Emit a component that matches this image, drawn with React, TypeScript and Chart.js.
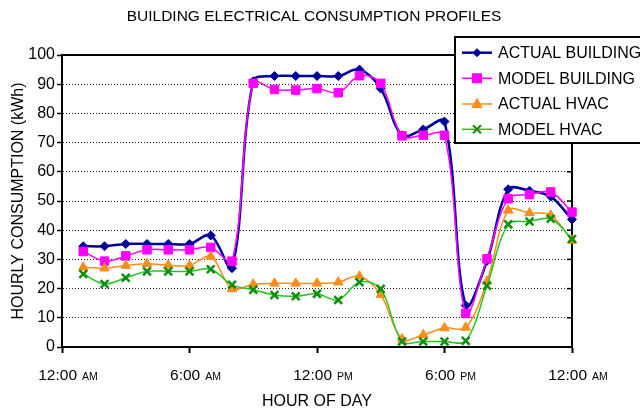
import React, { useEffect, useRef } from 'react';
import { Chart, registerables } from 'chart.js';

Chart.register(...registerables);

// ---------------- data ----------------
const hours = [1, 2, 3, 4, 5, 6, 7, 8, 9, 10, 11, 12, 13, 14, 15, 16, 17, 18, 19, 20, 21, 22, 23, 24];
const actualBuilding = [34.5, 34.5, 35.3, 35.3, 35.3, 35.3, 38.2, 27.0, 91.0, 92.8, 92.8, 92.8, 92.8, 95.0, 88.5, 72.5, 74.5, 77.2, 14.2, 29.5, 54.0, 53.5, 51.5, 43.7];
const modelBuilding = [32.7, 29.4, 31.2, 33.3, 33.3, 33.3, 34.1, 29.4, 90.3, 88.2, 88.0, 88.5, 87.1, 92.9, 90.3, 72.3, 72.5, 72.5, 11.5, 30.2, 50.8, 52.2, 53.1, 46.2];
const actualHvac = [27.3, 27.0, 27.9, 28.5, 28.0, 27.9, 31.0, 19.9, 21.5, 21.8, 21.8, 21.8, 22.2, 24.2, 17.9, 2.7, 4.2, 6.5, 6.7, 22.5, 46.8, 45.9, 45.1, 36.5];
const modelHvac = [25.0, 21.6, 23.7, 25.9, 25.9, 25.9, 26.6, 21.3, 19.6, 17.8, 17.4, 18.2, 16.1, 22.2, 19.9, 1.9, 1.9, 1.9, 2.1, 21.0, 42.0, 43.0, 43.9, 37.0];
const seriesNames = ['ACTUAL BUILDING', 'MODEL BUILDING', 'ACTUAL HVAC', 'MODEL HVAC'];
const xTickHours = [0, 6, 12, 18, 24];
const xTickTimes = ['12:00', '6:00', '12:00', '6:00', '12:00'];
const xTickPeriods = ['AM', 'AM', 'PM', 'PM', 'AM'];
const chartTitle = 'BUILDING ELECTRICAL CONSUMPTION PROFILES';
const xAxisTitle = 'HOUR OF DAY';
const yAxisTitle = 'HOURLY CONSUMPTION (kWh)';

// ---------------- styles ----------------
const FONT = "'Liberation Sans', Arial, sans-serif";
const STYLES = [
  { color: '#00009C', marker: 'diamond', pointStyle: 'rectRot', radius: 4.5, lineWidth: 2.5, fill: '#00009C', stroke: '#00009C', pbw: 1, order: 4 },
  { color: '#FF00FF', marker: 'square', pointStyle: 'rect', radius: 6, lineWidth: 1.5, fill: '#FF00FF', stroke: '#FF00FF', pbw: 1, order: 3 },
  { color: '#FF8C1A', marker: 'triangle', pointStyle: 'triangle', radius: 5.5, lineWidth: 1.5, fill: '#FF8C1A', stroke: '#FF8C1A', pbw: 1, order: 2 },
  { color: '#22C422', marker: 'x', pointStyle: 'crossRot', radius: 5.5, lineWidth: 1.5, fill: '#0E8E0E', stroke: '#0E8E0E', pbw: 2.5, order: 1 },
];

function drawMarker(ctx: CanvasRenderingContext2D, kind: string, x: number, y: number, r: number, fill: string, stroke: string, lw: number) {
  ctx.save();
  ctx.fillStyle = fill;
  ctx.strokeStyle = stroke;
  ctx.lineWidth = lw;
  ctx.beginPath();
  if (kind === 'diamond') {
    ctx.moveTo(x, y - r); ctx.lineTo(x + r, y); ctx.lineTo(x, y + r); ctx.lineTo(x - r, y); ctx.closePath();
    ctx.fill(); ctx.stroke();
  } else if (kind === 'square') {
    ctx.rect(x - r, y - r, 2 * r, 2 * r); ctx.fill(); ctx.stroke();
  } else if (kind === 'triangle') {
    ctx.moveTo(x, y - r); ctx.lineTo(x + r * 0.95, y + r * 0.65); ctx.lineTo(x - r * 0.95, y + r * 0.65); ctx.closePath();
    ctx.fill(); ctx.stroke();
  } else {
    ctx.moveTo(x - r, y - r); ctx.lineTo(x + r, y + r); ctx.moveTo(x + r, y - r); ctx.lineTo(x - r, y + r);
    ctx.stroke();
  }
  ctx.restore();
}

const decor = {
  id: 'decor',
  beforeDraw(chart: any) {
    const ctx = chart.ctx;
    ctx.save();
    ctx.fillStyle = '#fff';
    ctx.fillRect(0, 0, chart.width, chart.height);
    ctx.restore();
  },
  beforeDatasetsDraw(chart: any) {
    const ctx = chart.ctx;
    const a = chart.chartArea;
    const ys = chart.scales.y;
    ctx.save();
    ctx.strokeStyle = '#000';
    ctx.lineWidth = 2;
    ctx.beginPath();
    ctx.moveTo(a.left - 1, a.top);
    ctx.lineTo(a.right, a.top);
    ctx.lineTo(a.right, a.bottom);
    ctx.stroke();
    ctx.lineWidth = 1.5;
    for (let v = 10; v < 100; v += 10) {
      const py = ys.getPixelForValue(v);
      ctx.beginPath();
      ctx.moveTo(a.right - 5, py);
      ctx.lineTo(a.right, py);
      ctx.stroke();
    }
    ctx.restore();
  },
  afterDraw(chart: any) {
    const ctx = chart.ctx;
    const xs = chart.scales.x;
    ctx.save();
    // title
    ctx.fillStyle = '#000';
    ctx.font = `15.5px ${FONT}`;
    ctx.textAlign = 'center';
    ctx.textBaseline = 'alphabetic';
    ctx.fillText(chartTitle, 314, 21);
    // x tick labels (time in normal size, AM/PM in small caps size)
    ctx.textAlign = 'left';
    xTickHours.forEach((h, i) => {
      const px = xs.getPixelForValue(h);
      ctx.font = `15.5px ${FONT}`;
      const main = xTickTimes[i];
      const w1 = ctx.measureText(main).width;
      const gap = 5;
      ctx.font = `10.5px ${FONT}`;
      const w2 = ctx.measureText(xTickPeriods[i]).width;
      const start = px + 6 - (w1 + gap + w2) / 2;
      ctx.font = `15.5px ${FONT}`;
      ctx.fillText(main, start, 380);
      ctx.font = `10.5px ${FONT}`;
      ctx.fillText(xTickPeriods[i], start + w1 + gap, 380);
    });
    // legend
    const lx = 455, ly = 37, lw = 200, lh = 106;
    ctx.fillStyle = '#fff';
    ctx.fillRect(lx, ly, lw, lh);
    ctx.strokeStyle = '#000';
    ctx.lineWidth = 2;
    ctx.strokeRect(lx, ly, lw, lh);
    const rows = [52.7, 78.3, 104, 129.3];
    const legendR = [4, 4.5, 5.5, 4];
    seriesNames.forEach((name, i) => {
      const s = STYLES[i];
      const y = rows[i];
      ctx.strokeStyle = s.color;
      ctx.lineWidth = s.lineWidth;
      ctx.beginPath();
      ctx.moveTo(462, y);
      ctx.lineTo(492, y);
      ctx.stroke();
      drawMarker(ctx, s.marker, 477, y, legendR[i], s.fill, s.stroke, s.marker === 'x' ? 2 : 1);
      ctx.fillStyle = '#000';
      ctx.font = `16px ${FONT}`;
      ctx.textAlign = 'left';
      ctx.textBaseline = 'middle';
      ctx.fillText(name, 498, y + 1);
    });
    ctx.restore();
  },
};

export default function App() {
  const ref = useRef<HTMLCanvasElement>(null);
  useEffect(() => {
    const canvas = ref.current as HTMLCanvasElement;
    const seriesValues = [actualBuilding, modelBuilding, actualHvac, modelHvac];
    const chart = new Chart(canvas, {
      type: 'line',
      data: {
        datasets: seriesValues.map((vals, i) => ({
          label: seriesNames[i],
          data: hours.map((h, j) => ({ x: h, y: vals[j] })),
          borderColor: STYLES[i].color,
          backgroundColor: STYLES[i].fill,
          borderWidth: STYLES[i].lineWidth,
          pointStyle: STYLES[i].pointStyle as any,
          pointRadius: STYLES[i].radius,
          pointBackgroundColor: STYLES[i].fill,
          pointBorderColor: STYLES[i].stroke,
          pointBorderWidth: STYLES[i].pbw,
          tension: 0.35,
          clip: false as any,
          order: STYLES[i].order,
          fill: false,
        })),
      },
      options: {
        responsive: false,
        animation: false,
        devicePixelRatio: 1,
        events: [],
        layout: { padding: { top: 55, right: 68, left: 0, bottom: 0 } },
        plugins: { legend: { display: false }, title: { display: false }, tooltip: { enabled: false } },
        scales: {
          x: {
            type: 'linear',
            min: 0,
            max: 24,
            ticks: { stepSize: 6, display: false },
            grid: { drawOnChartArea: false, drawTicks: true, tickLength: 6, tickColor: '#000', tickWidth: 2 },
            border: { display: true, color: '#000', width: 2 },
            title: { display: true, text: xAxisTitle, color: '#000', font: { family: FONT, size: 16 }, padding: { top: 0, bottom: 1 } },
            afterFit: (s: any) => { s.height = 65; },
          },
          y: {
            min: 0,
            max: 100,
            ticks: { stepSize: 10, color: '#000', font: { family: FONT, size: 16 }, padding: 2 },
            grid: { color: '#222', lineWidth: 1, tickLength: 5, tickColor: '#000', tickWidth: 1.5, tickBorderDash: [] },
            border: { display: true, color: '#000', width: 2, dash: [1, 2] },
            title: { display: true, text: yAxisTitle, color: '#000', font: { family: FONT, size: 16 }, padding: { top: 9, bottom: 0 } },
            afterFit: (s: any) => { s.width = 62; },
          },
        },
      } as any,
      plugins: [decor],
    });
    return () => chart.destroy();
  }, []);
  return (
    <div style={{ position: 'fixed', left: 0, top: 0, width: 640, height: 412, background: '#fff' }}>
      <canvas ref={ref} width={640} height={412} style={{ display: 'block' }} />
    </div>
  );
}
